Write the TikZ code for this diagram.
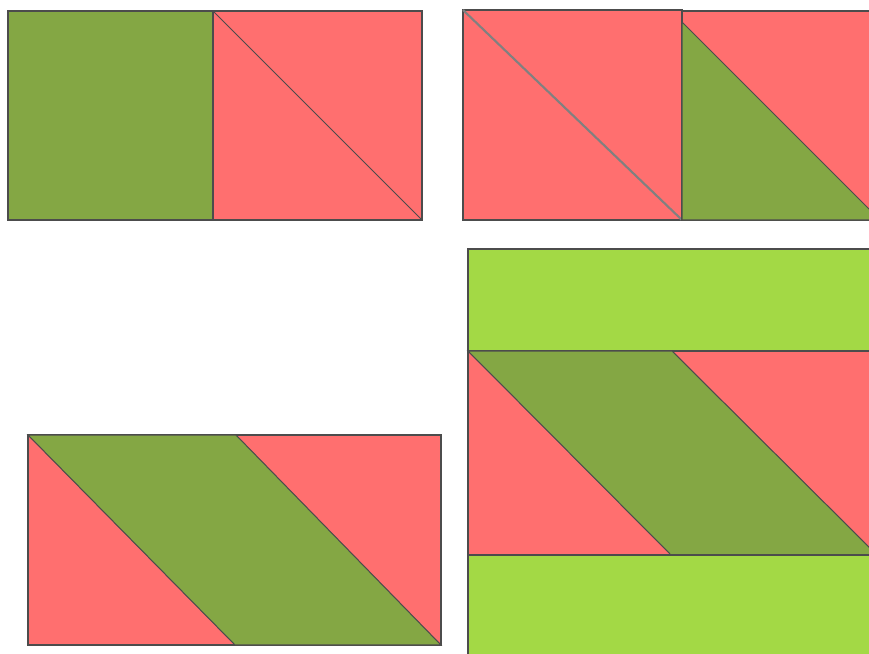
\documentclass[tikz,border=0pt]{standalone}
\definecolor{tri}{HTML}{FF6F6F}
\definecolor{leaf}{HTML}{84A744}
\definecolor{lime}{HTML}{A3D945}
\begin{document}
\begin{tikzpicture}[x=0.02cm,y=-0.02cm,
  piece/.style={draw=black!70, line width=0.6pt}]
  \useasboundingbox (0,0) rectangle (869,653);
  \clip (0,0) rectangle (869,653);
  \draw[piece,fill=leaf](8,11) rectangle (213,220);
  \draw[piece,fill=tri](213,11) rectangle (422,220);
  \draw[piece](213,11)--(422,220);
  \draw[piece,fill=tri](463,10) rectangle (682,220);
  \draw[black!50, line width=1.2pt](463,10)--(682,220);
  \draw[piece,fill=tri](682,11) rectangle (885,220);
  \draw[piece,fill=leaf](682,22)--(880,220)--(682,220)--cycle;
  \draw[piece,fill=tri](28,435) rectangle (441,645);
  \draw[piece,fill=leaf](28,435)--(236,435)--(441,645)--(235,645)--cycle;
  \draw[piece,fill=lime](468,249) rectangle (885,351);
  \draw[piece,fill=tri](468,351) rectangle (885,555);
  \draw[piece,fill=leaf](468,351)--(672,351)--(877,555)--(671,555)--cycle;
  \draw[piece,fill=lime](468,555) rectangle (885,670);
\end{tikzpicture}
\end{document}
